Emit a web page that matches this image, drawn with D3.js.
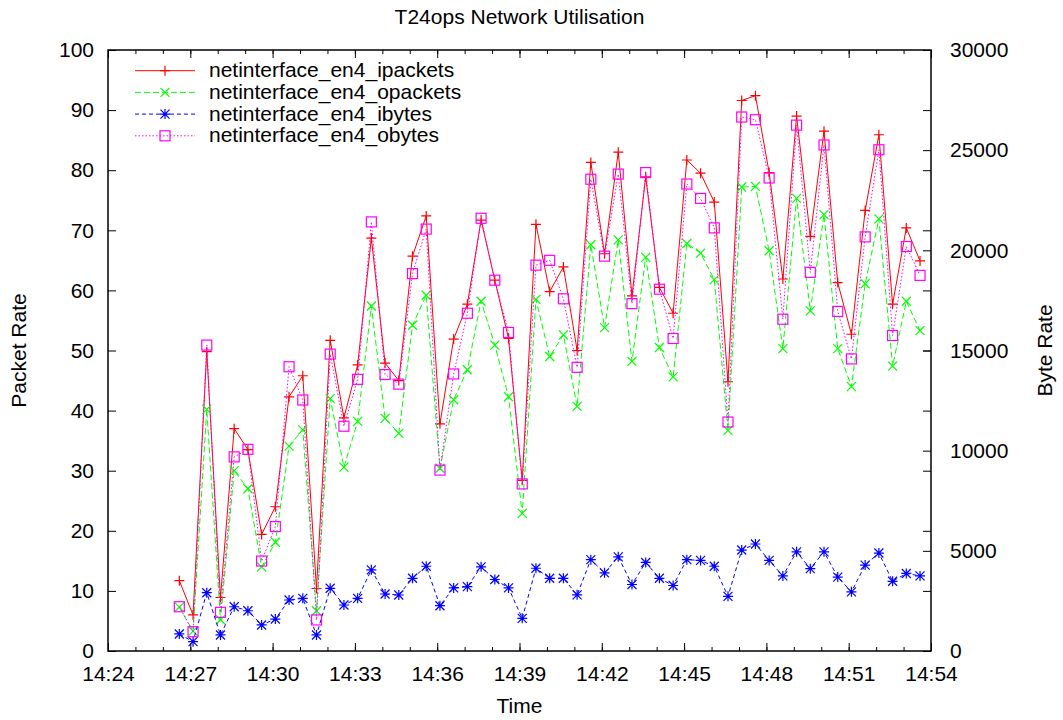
<!DOCTYPE html>
<html>
<head>
<meta charset="utf-8">
<script src="https://cdn.jsdelivr.net/npm/d3@7"></script>
<style>
  body { margin: 0; background: #fff; }
  text { font-family: "Liberation Sans", Arial, Helvetica, sans-serif; }
</style>
</head>
<body>
<div id="chart"></div>
<script>

// sample times (one every ~30 s)
var times = ["14:26:36","14:27:06","14:27:36","14:28:06","14:28:36","14:29:06","14:29:36","14:30:06","14:30:36","14:31:06",
             "14:31:36","14:32:06","14:32:36","14:33:06","14:33:36","14:34:06","14:34:36","14:35:06","14:35:36","14:36:06",
             "14:36:36","14:37:06","14:37:36","14:38:06","14:38:36","14:39:06","14:39:36","14:40:06","14:40:36","14:41:06",
             "14:41:36","14:42:06","14:42:36","14:43:06","14:43:36","14:44:06","14:44:36","14:45:06","14:45:36","14:46:06",
             "14:46:36","14:47:06","14:47:36","14:48:06","14:48:36","14:49:06","14:49:36","14:50:06","14:50:36","14:51:06",
             "14:51:36","14:52:06","14:52:36","14:53:06","14:53:36"];

// packet rates (left axis)
var ipackets = [11.7, 6.0, 49.8, 8.9, 37.0, 33.5, 19.4, 24.0, 42.3, 45.8,
                10.4, 51.7, 38.8, 47.6, 68.7, 47.9, 45.0, 65.7, 72.4, 37.8,
                51.9, 57.7, 71.7, 61.7, 52.0, 28.4, 71.0, 59.8, 63.9, 50.0,
                81.3, 66.1, 83.0, 59.1, 78.9, 60.5, 56.2, 81.7, 79.5, 74.7,
                44.8, 91.6, 92.4, 79.6, 61.9, 89.0, 69.0, 86.5, 61.3, 52.7,
                73.3, 85.9, 57.7, 70.4, 64.9];
var opackets = [7.3, 3.3, 40.2, 5.2, 30.0, 27.0, 14.0, 18.1, 34.1, 36.8,
                6.7, 42.0, 30.6, 38.2, 57.4, 38.7, 36.2, 54.2, 59.2, 30.4,
                41.8, 46.8, 58.2, 50.9, 42.3, 22.9, 58.5, 49.0, 52.6, 40.7,
                67.6, 53.8, 68.4, 48.2, 65.5, 50.5, 45.6, 67.8, 66.2, 61.8,
                36.7, 77.2, 77.3, 66.6, 50.3, 75.3, 56.6, 72.6, 50.3, 44.0,
                61.1, 71.9, 47.4, 58.2, 53.3];

// byte rates (right axis)
var ibytes = [850, 465, 2910, 800, 2210, 2010, 1300, 1595, 2545, 2630,
              800, 3130, 2295, 2630, 4050, 2845, 2795, 3630, 4230, 2260,
              3150, 3210, 4200, 3570, 3150, 1630, 4130, 3630, 3630, 2805,
              4560, 3900, 4700, 3320, 4420, 3630, 3270, 4560, 4520, 4230,
              2730, 5040, 5340, 4520, 3750, 4950, 4110, 4950, 3690, 2955,
              4290, 4890, 3480, 3870, 3750];
var obytes = [2210, 960, 15270, 1930, 9690, 10065, 4490, 6210, 14190, 12530,
              1550, 14820, 11220, 13560, 21420, 13800, 13320, 18840, 21060, 9030,
              13830, 16860, 21600, 18510, 15900, 8340, 19260, 19500, 17580, 14160,
              23550, 19710, 23805, 17340, 23880, 18060, 15600, 23310, 22590, 21120,
              11430, 26655, 26520, 23610, 16560, 26250, 18900, 25260, 16950, 14580,
              20670, 25020, 15750, 20190, 18750];

var seriesNames = ["netinterface_en4_ipackets", "netinterface_en4_opackets",
                   "netinterface_en4_ibytes", "netinterface_en4_obytes"];
var y2Ticks = [0, 5000, 10000, 15000, 20000, 25000, 30000];

// set the dimensions and margins of the graph
var margin = {top: 50, right: 132, bottom: 69, left: 108},
    width = 1063 - margin.left - margin.right,
    height = 720 - margin.top - margin.bottom;

var svg = d3.select("#chart")
    .append("svg")
    .attr("width", width + margin.left + margin.right)
    .attr("height", height + margin.top + margin.bottom)
    .append("g")
    .attr("transform", "translate(" + margin.left + "," + margin.top + ")");

var parseTime = d3.timeParse("%H:%M:%S");

var x = d3.scaleTime()
    .domain([parseTime("14:24:00"), parseTime("14:54:00")])
    .range([0, width]);
var y = d3.scaleLinear().domain([0, 100]).range([height, 0]);
var y2 = d3.scaleLinear().domain([0, 30000]).range([height, 0]);

var fontSize = "21px";

// axes, gnuplot style: ticks point inwards and are mirrored
function styleAxis(g) {
  g.select(".domain").remove();
  g.selectAll("line").attr("stroke", "#000");
  g.selectAll("text").style("font-size", fontSize).attr("fill", "#000");
}

svg.append("g")
    .attr("transform", "translate(0," + height + ")")
    .call(d3.axisBottom(x).ticks(d3.timeMinute.every(1)).tickSize(-4).tickFormat(""))
    .call(styleAxis);
svg.append("g")
    .attr("transform", "translate(0," + height + ")")
    .call(d3.axisBottom(x).ticks(d3.timeMinute.every(3)).tickSize(-8).tickPadding(15)
          .tickFormat(d3.timeFormat("%H:%M")))
    .call(styleAxis);
svg.append("g")
    .call(d3.axisTop(x).ticks(d3.timeMinute.every(1)).tickSize(-4).tickFormat(""))
    .call(styleAxis);
svg.append("g")
    .call(d3.axisTop(x).ticks(d3.timeMinute.every(3)).tickSize(-8).tickFormat(""))
    .call(styleAxis);

svg.append("g")
    .call(d3.axisLeft(y).ticks(10).tickSize(-8).tickPadding(14))
    .call(styleAxis);
svg.append("g")
    .attr("transform", "translate(" + width + ",0)")
    .call(d3.axisRight(y).ticks(10).tickSize(-8).tickFormat(""))
    .call(styleAxis);
svg.append("g")
    .attr("transform", "translate(" + width + ",0)")
    .call(d3.axisRight(y2).tickValues(y2Ticks).tickSize(-8).tickPadding(19).tickFormat(d3.format("d")))
    .call(styleAxis);

// border
svg.append("rect")
    .attr("x", 0).attr("y", 0)
    .attr("width", width).attr("height", height)
    .attr("fill", "none")
    .attr("stroke", "#000")
    .attr("stroke-width", 1.5);

// title and axis labels
svg.append("text")
    .attr("x", width / 2)
    .attr("y", 24 - margin.top)
    .attr("text-anchor", "middle")
    .style("font-size", fontSize)
    .text("T24ops Network Utilisation");
svg.append("text")
    .attr("x", width / 2)
    .attr("y", height + 62)
    .attr("text-anchor", "middle")
    .style("font-size", fontSize)
    .text("Time");
svg.append("text")
    .attr("transform", "translate(" + (26 - margin.left) + "," + (height / 2) + ") rotate(-90)")
    .attr("text-anchor", "middle")
    .style("font-size", fontSize)
    .text("Packet Rate");
svg.append("text")
    .attr("transform", "translate(" + (1052 - margin.left) + "," + (height / 2) + ") rotate(-90)")
    .attr("text-anchor", "middle")
    .style("font-size", fontSize)
    .text("Byte Rate");

// point symbols
function drawMarker(g, type, cx, cy, color) {
  var s = 5, d = 4.5;
  var paths = [];
  if (type == "plus" || type == "star") {
    paths.push("M" + (cx - s) + "," + cy + "H" + (cx + s));
    paths.push("M" + cx + "," + (cy - s) + "V" + (cy + s));
  }
  if (type == "cross" || type == "star") {
    paths.push("M" + (cx - d) + "," + (cy - d) + "L" + (cx + d) + "," + (cy + d));
    paths.push("M" + (cx - d) + "," + (cy + d) + "L" + (cx + d) + "," + (cy - d));
  }
  if (type == "square") {
    g.append("rect")
      .attr("x", cx - s).attr("y", cy - s)
      .attr("width", 2 * s).attr("height", 2 * s)
      .attr("fill", "none").attr("stroke", color).attr("stroke-width", 1.2);
    return;
  }
  g.append("path")
    .attr("d", paths.join(""))
    .attr("fill", "none")
    .attr("stroke", color)
    .attr("stroke-width", 1.2);
}

var series = [
  {name: seriesNames[0], values: ipackets, scale: y,  color: "#ff0000", dash: null,  marker: "plus"},
  {name: seriesNames[1], values: opackets, scale: y,  color: "#00ff00", dash: "6,3", marker: "cross"},
  {name: seriesNames[2], values: ibytes,   scale: y2, color: "#0000ff", dash: "4,3", marker: "star"},
  {name: seriesNames[3], values: obytes,   scale: y2, color: "#ff00ff", dash: "1.5,2", marker: "square"}
];

series.forEach(function(s) {
  var pts = times.map(function(t, i) { return {t: parseTime(t), v: s.values[i]}; });
  var line = d3.line()
      .x(function(d) { return x(d.t); })
      .y(function(d) { return s.scale(d.v); });
  var g = svg.append("g");
  g.append("path")
      .datum(pts)
      .attr("d", line)
      .attr("fill", "none")
      .attr("stroke", s.color)
      .attr("stroke-width", 1)
      .attr("stroke-dasharray", s.dash);
  pts.forEach(function(d) {
    drawMarker(g, s.marker, x(d.t), s.scale(d.v), s.color);
  });
});

// legend
var legend = svg.append("g");
series.forEach(function(s, i) {
  var ly = 20.7 + i * 21.7;
  legend.append("line")
      .attr("x1", 27).attr("x2", 87)
      .attr("y1", ly).attr("y2", ly)
      .attr("stroke", s.color)
      .attr("stroke-width", 1)
      .attr("stroke-dasharray", s.dash);
  drawMarker(legend, s.marker, 57, ly, s.color);
  legend.append("text")
      .attr("x", 101)
      .attr("y", ly + 6.5)
      .style("font-size", fontSize)
      .text(s.name);
});

</script>
</body>
</html>
